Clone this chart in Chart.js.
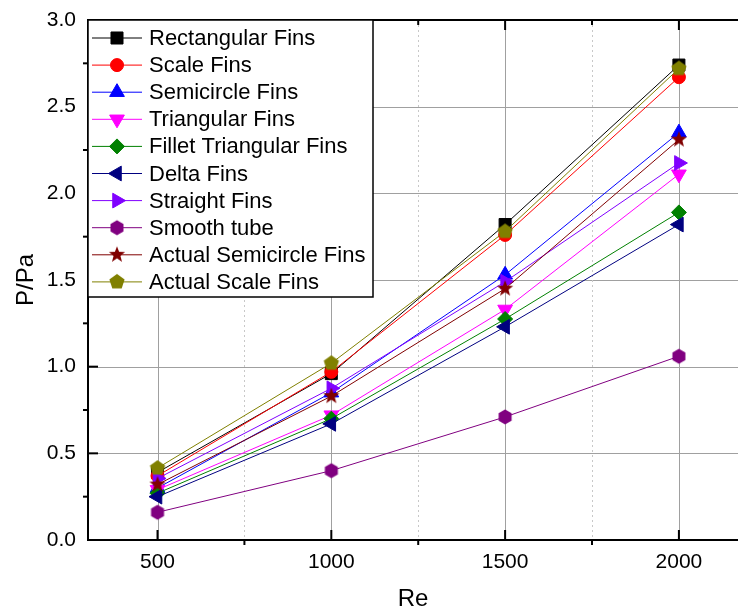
<!DOCTYPE html>
<html>
<head>
<meta charset="utf-8">
<script src="https://cdn.jsdelivr.net/npm/chart.js@4.4.0/dist/chart.umd.min.js"></script>
<style>
  html, body { margin: 0; padding: 0; background: #fff; overflow: hidden; }
</style>
</head>
<body>
<canvas id="chart" width="738" height="614"></canvas>
<script>
// Re values and P/Pa per fin type
const reValues = [500, 1000, 1500, 2000];
const rectangularFins = [0.39, 0.96, 1.82, 2.74];
const scaleFins = [0.37, 0.97, 1.76, 2.67];
const semicircleFins = [0.30, 0.85, 1.53, 2.35];
const triangularFins = [0.29, 0.72, 1.33, 2.11];
const filletTriangularFins = [0.27, 0.70, 1.275, 1.89];
const deltaFins = [0.25, 0.67, 1.23, 1.82];
const straightFins = [0.355, 0.875, 1.49, 2.175];
const smoothTube = [0.16, 0.40, 0.71, 1.06];
const actualSemicircleFins = [0.32, 0.83, 1.45, 2.31];
const actualScaleFins = [0.415, 1.02, 1.78, 2.72];

const seriesNames = ['Rectangular Fins', 'Scale Fins', 'Semicircle Fins', 'Triangular Fins',
  'Fillet Triangular Fins', 'Delta Fins', 'Straight Fins', 'Smooth tube',
  'Actual Semicircle Fins', 'Actual Scale Fins'];
const seriesValues = [rectangularFins, scaleFins, semicircleFins, triangularFins,
  filletTriangularFins, deltaFins, straightFins, smoothTube,
  actualSemicircleFins, actualScaleFins];
const seriesColors = ['#000000', '#ff0000', '#0000ff', '#ff00ff', '#008000',
  '#000080', '#8000ff', '#800080', '#800000', '#808000'];

// axis ticks
const xMajor = [500, 1000, 1500, 2000];
const xMinor = [750, 1250, 1750];
const yMajor = [0, 0.5, 1.0, 1.5, 2.0, 2.5, 3.0];
const yMinor = [0.25, 0.75, 1.25, 1.75, 2.25, 2.75];

const FONT = 'Arial, "Liberation Sans", sans-serif';

// custom markers chart.js does not have
function shapeCanvas(color, draw) {
  const c = document.createElement('canvas');
  c.width = 20; c.height = 20;
  const g = c.getContext('2d');
  g.fillStyle = color;
  g.beginPath();
  draw(g, 10, 10);
  g.closePath();
  g.fill();
  return c;
}
function polygon(n, r) {
  return (g, cx, cy) => {
    for (let k = 0; k < n; k++) {
      const a = k * 2 * Math.PI / n;
      const px = cx + r * Math.sin(a), py = cy - r * Math.cos(a);
      if (k) g.lineTo(px, py); else g.moveTo(px, py);
    }
  };
}
function star(ro, ri) {
  return (g, cx, cy) => {
    for (let k = 0; k < 10; k++) {
      const r = k % 2 ? ri : ro;
      const a = k * Math.PI / 5;
      const px = cx + r * Math.sin(a), py = cy - r * Math.cos(a);
      if (k) g.lineTo(px, py); else g.moveTo(px, py);
    }
  };
}

const markerStyles = ['rect', 'circle', 'triangle', 'triangle', 'rectRot', 'triangle', 'triangle',
  shapeCanvas(seriesColors[7], polygon(6, 7.5)),
  shapeCanvas(seriesColors[8], star(8.5, 3.6)),
  shapeCanvas(seriesColors[9], polygon(5, 8))];
const markerRotations = [0, 0, 0, 180, 0, -90, 90, 0, 0, 0];
const markerRadii = [8.5, 6.5, 8.5, 8.5, 7.5, 8.5, 8.5, 8, 8, 8];

const framePlugin = {
  id: 'frame',
  beforeDatasetsDraw(chart) {
    const {ctx, chartArea: a, scales: {x, y}} = chart;
    ctx.save();
    ctx.lineWidth = 1;
    ctx.strokeStyle = '#a0a0a0';
    yMajor.forEach(v => {
      if (v <= 0 || v >= 3) return;
      const py = Math.round(y.getPixelForValue(v)) + 0.5;
      ctx.beginPath(); ctx.moveTo(a.left, py); ctx.lineTo(a.right, py); ctx.stroke();
    });
    xMajor.forEach(v => {
      const px = Math.round(x.getPixelForValue(v)) + 0.5;
      ctx.beginPath(); ctx.moveTo(px, a.top); ctx.lineTo(px, a.bottom); ctx.stroke();
    });
    ctx.strokeStyle = '#c8c8c8';
    ctx.setLineDash([2, 3]);
    xMinor.forEach(v => {
      const px = Math.round(x.getPixelForValue(v)) + 0.5;
      ctx.beginPath(); ctx.moveTo(px, a.top); ctx.lineTo(px, a.bottom); ctx.stroke();
    });
    ctx.restore();
  },
  afterDatasetsDraw(chart) {
    const {ctx, chartArea: a, scales: {x, y}} = chart;
    ctx.save();
    ctx.strokeStyle = '#000';
    ctx.lineWidth = 2;
    ctx.beginPath();
    ctx.moveTo(chart.width, a.top); ctx.lineTo(a.left, a.top);
    ctx.lineTo(a.left, a.bottom); ctx.lineTo(chart.width, a.bottom);
    ctx.stroke();
    const seg = (x1, y1, x2, y2) => { ctx.beginPath(); ctx.moveTo(x1, y1); ctx.lineTo(x2, y2); ctx.stroke(); };
    xMajor.forEach(v => {
      const px = x.getPixelForValue(v);
      seg(px, a.bottom, px, a.bottom - 10);
      seg(px, a.top, px, a.top + 10);
    });
    xMinor.forEach(v => {
      const px = x.getPixelForValue(v);
      seg(px, a.bottom, px, a.bottom + 5);
      seg(px, a.top, px, a.top + 5);
    });
    yMajor.forEach(v => {
      const py = y.getPixelForValue(v);
      seg(a.left, py, a.left + 10, py);
    });
    yMinor.forEach(v => {
      const py = y.getPixelForValue(v);
      seg(a.left, py, a.left - 5, py);
    });
    ctx.restore();
  },
  afterDraw(chart) {
    // legend box in the upper left of the plot
    const {ctx, chartArea: a} = chart;
    const rowH = 27.1;
    const boxW = 285, boxH = 277;
    ctx.save();
    ctx.fillStyle = '#fff';
    ctx.fillRect(a.left, a.top, boxW, boxH);
    ctx.strokeStyle = '#000';
    ctx.lineWidth = 1.5;
    ctx.strokeRect(a.left, a.top, boxW, boxH);
    ctx.font = '22px ' + FONT;
    ctx.textBaseline = 'middle';
    chart.data.datasets.forEach((ds, i) => {
      const cy = a.top + 18 + i * rowH;
      ctx.strokeStyle = ds.borderColor;
      ctx.lineWidth = 1;
      ctx.beginPath(); ctx.moveTo(a.left + 4, cy); ctx.lineTo(a.left + 54, cy); ctx.stroke();
      ctx.fillStyle = ds.pointBackgroundColor;
      ctx.strokeStyle = ds.pointBorderColor;
      Chart.helpers.drawPoint(ctx, {
        pointStyle: ds.pointStyle, rotation: ds.pointRotation,
        radius: ds.pointRadius, borderWidth: 1
      }, a.left + 29, cy);
      ctx.fillStyle = '#000';
      ctx.fillText(ds.label, a.left + 61, cy + 1);
    });
    ctx.restore();
  }
};

new Chart(document.getElementById('chart'), {
  type: 'line',
  data: {
    datasets: seriesNames.map((name, i) => ({
      label: name,
      data: reValues.map((re, j) => ({x: re, y: seriesValues[i][j]})),
      borderColor: seriesColors[i],
      backgroundColor: seriesColors[i],
      pointBackgroundColor: seriesColors[i],
      pointBorderColor: seriesColors[i],
      pointBorderWidth: 1,
      borderWidth: 1,
      pointStyle: markerStyles[i],
      pointRotation: markerRotations[i],
      pointRadius: markerRadii[i],
      order: seriesNames.length - i,
      tension: 0,
      fill: false
    }))
  },
  options: {
    responsive: false,
    animation: false,
    layout: {autoPadding: false, padding: {top: 20, right: 0, left: 0, bottom: 0}},
    plugins: {legend: {display: false}, tooltip: {enabled: false}},
    scales: {
      x: {
        type: 'linear', min: 300, max: 2170,
        afterBuildTicks: s => { s.ticks = xMajor.map(v => ({value: v})); },
        afterFit: s => { s.height = 74; s.paddingLeft = 0; s.paddingRight = 0; },
        grid: {display: false, drawTicks: false},
        border: {display: false},
        ticks: {font: {family: FONT, size: 21}, color: '#000', padding: 10, maxRotation: 0, autoSkip: false,
          callback: v => String(v)},
        title: {display: true, text: 'Re', font: {family: FONT, size: 24}, color: '#000', padding: {top: 0, bottom: 0}}
      },
      y: {
        type: 'linear', min: 0, max: 3,
        afterBuildTicks: s => { s.ticks = yMajor.map(v => ({value: v})); },
        afterFit: s => { s.width = 88; s.paddingTop = 0; s.paddingBottom = 0; },
        grid: {display: false, drawTicks: false},
        border: {display: false},
        ticks: {font: {family: FONT, size: 21}, color: '#000', padding: 12, callback: v => v.toFixed(1)},
        title: {display: true, text: 'P/Pa', font: {family: FONT, size: 24}, color: '#000', padding: {top: 12, bottom: 0}}
      }
    }
  },
  plugins: [framePlugin]
});
</script>
</body>
</html>
